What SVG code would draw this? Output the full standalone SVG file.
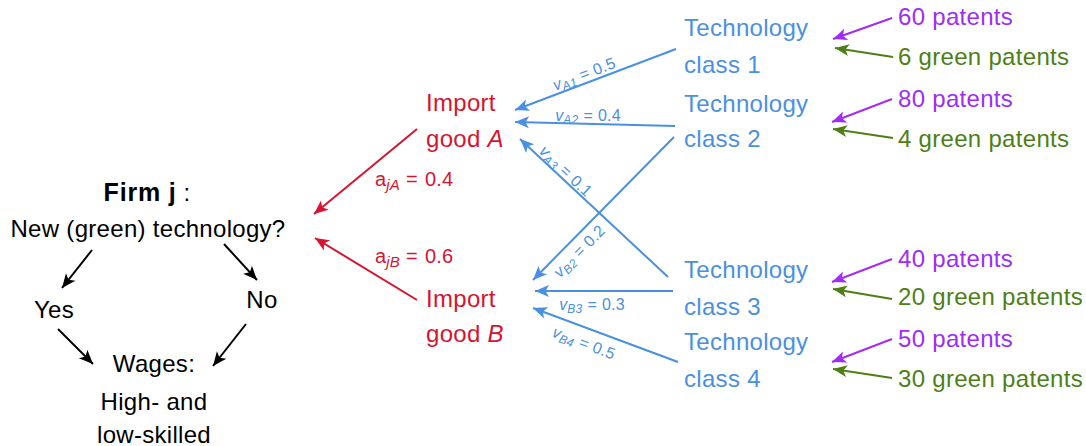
<svg xmlns="http://www.w3.org/2000/svg" width="1086" height="446" viewBox="0 0 1086 446">
<style>
text{font-family:"Liberation Sans","DejaVu Sans",sans-serif;font-size:24px;letter-spacing:0.3px}
.k{fill:#000}.b{fill:#4a90e2}.r{fill:#d6142f}.p{fill:#a02cf5}.g{fill:#4e7f16}
.lk{stroke:#000;stroke-width:2;fill:none}
.lb{stroke:#4a90e2;stroke-width:2;fill:none}
.lr{stroke:#d6142f;stroke-width:2;fill:none}
.lp{stroke:#a02cf5;stroke-width:2;fill:none}
.lg{stroke:#4e7f16;stroke-width:2;fill:none}
.sm{font-size:16px;letter-spacing:0.2px}
.ss{font-size:20px;letter-spacing:0.2px}
.sub{font-size:12px;font-style:italic}
.subr{font-size:15px;font-style:italic}
.it{font-style:italic}
</style>
<defs>
<marker id="mk" viewBox="-15 -7 16 14" refX="0" refY="0" markerWidth="16" markerHeight="14" markerUnits="userSpaceOnUse" orient="auto"><path d="M0,0 L-14,-6 L-10.5,0 L-14,6 Z" fill="#000"/></marker>
<marker id="mb" viewBox="-15 -7 16 14" refX="0" refY="0" markerWidth="16" markerHeight="14" markerUnits="userSpaceOnUse" orient="auto"><path d="M0,0 L-14,-6 L-10.5,0 L-14,6 Z" fill="#4a90e2"/></marker>
<marker id="mr" viewBox="-15 -7 16 14" refX="0" refY="0" markerWidth="16" markerHeight="14" markerUnits="userSpaceOnUse" orient="auto"><path d="M0,0 L-14,-6 L-10.5,0 L-14,6 Z" fill="#d6142f"/></marker>
<marker id="mp" viewBox="-15 -7 16 14" refX="0" refY="0" markerWidth="16" markerHeight="14" markerUnits="userSpaceOnUse" orient="auto"><path d="M0,0 L-14,-6 L-10.5,0 L-14,6 Z" fill="#a02cf5"/></marker>
<marker id="mg" viewBox="-15 -7 16 14" refX="0" refY="0" markerWidth="16" markerHeight="14" markerUnits="userSpaceOnUse" orient="auto"><path d="M0,0 L-14,-6 L-10.5,0 L-14,6 Z" fill="#4e7f16"/></marker>
</defs>

<g id="firm">
<text class="k" x="147" y="201" text-anchor="middle"><tspan font-weight="bold" font-size="25" letter-spacing="0.8">Firm j</tspan> :</text>
<text class="k" x="148" y="237" text-anchor="middle">New (green) technology?</text>
</g>
<g id="yes"><text class="k" x="54" y="318" text-anchor="middle">Yes</text></g>
<g id="no"><text class="k" x="262" y="308" text-anchor="middle">No</text></g>
<g id="wages">
<text class="k" x="154" y="372" text-anchor="middle">Wages:</text>
<text class="k" x="154" y="410" text-anchor="middle">High- and</text>
<text class="k" x="154" y="443" text-anchor="middle">low-skilled</text>
</g>

<g id="importA">
<text class="r" x="426" y="111">Import</text>
<text class="r" x="426" y="147">good <tspan class="it">A</tspan></text>
</g>
<g id="importB">
<text class="r" x="426" y="307">Import</text>
<text class="r" x="426" y="342">good <tspan class="it">B</tspan></text>
</g>

<g id="class1"><text class="b" x="684" y="36">Technology</text><text class="b" x="684" y="73">class 1</text></g>
<g id="class2"><text class="b" x="684" y="112">Technology</text><text class="b" x="684" y="147">class 2</text></g>
<g id="class3"><text class="b" x="684" y="278">Technology</text><text class="b" x="684" y="315">class 3</text></g>
<g id="class4"><text class="b" x="684" y="350">Technology</text><text class="b" x="684" y="387">class 4</text></g>

<g id="patents1"><text class="p" x="898" y="25">60 patents</text><text class="g" x="898" y="65">6 green patents</text></g>
<g id="patents2"><text class="p" x="898" y="107">80 patents</text><text class="g" x="898" y="147">4 green patents</text></g>
<g id="patents3"><text class="p" x="898" y="267">40 patents</text><text class="g" x="898" y="305">20 green patents</text></g>
<g id="patents4"><text class="p" x="898" y="347">50 patents</text><text class="g" x="898" y="387">30 green patents</text></g>

<g id="connectors">
<line class="lk" x1="92" y1="250" x2="62" y2="288" marker-end="url(#mk)"/>
<line class="lk" x1="224" y1="244" x2="257" y2="280" marker-end="url(#mk)"/>
<line class="lk" x1="58" y1="329" x2="93" y2="364" marker-end="url(#mk)"/>
<line class="lk" x1="246" y1="324" x2="213" y2="366" marker-end="url(#mk)"/>

<line class="lr" x1="417" y1="129" x2="314" y2="214" marker-end="url(#mr)"/>
<line class="lr" x1="417" y1="300" x2="315" y2="238" marker-end="url(#mr)"/>
<text class="r ss" x="375" y="186">a<tspan class="subr" dy="4">jA</tspan><tspan dy="-4" dx="6">=</tspan><tspan dx="7">0.4</tspan></text>
<text class="r ss" x="375" y="263">a<tspan class="subr" dy="4">jB</tspan><tspan dy="-4" dx="6">=</tspan><tspan dx="7">0.6</tspan></text>

<line class="lb" x1="676" y1="49" x2="515" y2="110" marker-end="url(#mb)"/>
<line class="lb" x1="675" y1="126" x2="515" y2="122" marker-end="url(#mb)"/>
<line class="lb" x1="668" y1="277" x2="520" y2="139" marker-end="url(#mb)"/>
<line class="lb" x1="674" y1="137" x2="533" y2="280" marker-end="url(#mb)"/>
<line class="lb" x1="673" y1="291" x2="535" y2="291" marker-end="url(#mb)"/>
<line class="lb" x1="678" y1="362" x2="533" y2="308" marker-end="url(#mb)"/>

<text class="b sm" text-anchor="middle" transform="translate(586,79) rotate(-20.8)"><tspan class="it">v</tspan><tspan class="sub" dy="3">A1</tspan><tspan dy="-3" dx="5">=</tspan><tspan dx="5">0.5</tspan></text>
<text class="b sm" text-anchor="middle" x="588" y="121"><tspan class="it">v</tspan><tspan class="sub" dy="3">A2</tspan><tspan dy="-3" dx="5">=</tspan><tspan dx="5">0.4</tspan></text>
<text class="b sm" text-anchor="middle" transform="translate(562,175) rotate(43.6)"><tspan class="it">v</tspan><tspan class="sub" dy="3">A3</tspan><tspan dy="-3" dx="5">=</tspan><tspan dx="5">0.1</tspan></text>
<text class="b sm" text-anchor="middle" transform="translate(583,255) rotate(-45.5)"><tspan class="it">v</tspan><tspan class="sub" dy="3">B2</tspan><tspan dy="-3" dx="5">=</tspan><tspan dx="5">0.2</tspan></text>
<text class="b sm" text-anchor="middle" x="592" y="310"><tspan class="it">v</tspan><tspan class="sub" dy="3">B3</tspan><tspan dy="-3" dx="5">=</tspan><tspan dx="5">0.3</tspan></text>
<text class="b sm" text-anchor="middle" transform="translate(582,348) rotate(20.8)"><tspan class="it">v</tspan><tspan class="sub" dy="3">B4</tspan><tspan dy="-3" dx="5">=</tspan><tspan dx="5">0.5</tspan></text>

<line class="lp" x1="892" y1="18" x2="833" y2="39" marker-end="url(#mp)"/>
<line class="lg" x1="893" y1="57" x2="835" y2="48" marker-end="url(#mg)"/>
<line class="lp" x1="892" y1="99" x2="832" y2="122" marker-end="url(#mp)"/>
<line class="lg" x1="893" y1="138" x2="833" y2="129" marker-end="url(#mg)"/>
<line class="lp" x1="892" y1="259" x2="832" y2="282" marker-end="url(#mp)"/>
<line class="lg" x1="892" y1="299" x2="833" y2="289" marker-end="url(#mg)"/>
<line class="lp" x1="892" y1="339" x2="832" y2="362" marker-end="url(#mp)"/>
<line class="lg" x1="892" y1="378" x2="833" y2="369" marker-end="url(#mg)"/>
</g>
</svg>
